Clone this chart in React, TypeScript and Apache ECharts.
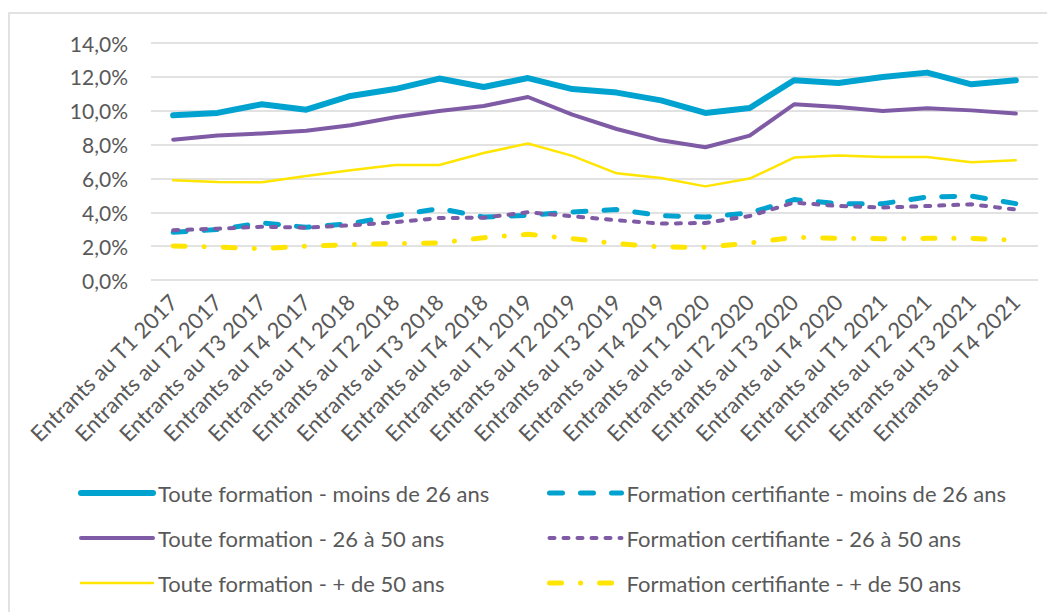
import React, { useEffect, useRef } from "react";
import * as echarts from "echarts";

const categories = [
  "Entrants au T1 2017", "Entrants au T2 2017", "Entrants au T3 2017", "Entrants au T4 2017",
  "Entrants au T1 2018", "Entrants au T2 2018", "Entrants au T3 2018", "Entrants au T4 2018",
  "Entrants au T1 2019", "Entrants au T2 2019", "Entrants au T3 2019", "Entrants au T4 2019",
  "Entrants au T1 2020", "Entrants au T2 2020", "Entrants au T3 2020", "Entrants au T4 2020",
  "Entrants au T1 2021", "Entrants au T2 2021", "Entrants au T3 2021", "Entrants au T4 2021",
];

const touteMoins26 = [9.73, 9.87, 10.38, 10.06, 10.87, 11.28, 11.9, 11.4, 11.93, 11.28, 11.07, 10.61, 9.87, 10.16, 11.8, 11.64, 11.99, 12.25, 11.56, 11.8];
const toute26a50 = [8.29, 8.53, 8.66, 8.82, 9.14, 9.61, 9.98, 10.28, 10.81, 9.77, 8.92, 8.25, 7.84, 8.53, 10.38, 10.22, 9.98, 10.14, 10.02, 9.83];
const touteplus50 = [5.89, 5.79, 5.77, 6.14, 6.48, 6.79, 6.79, 7.5, 8.06, 7.33, 6.3, 6.03, 5.53, 5.99, 7.23, 7.35, 7.27, 7.27, 6.95, 7.07];
const certMoins26 = [2.82, 2.98, 3.37, 3.11, 3.33, 3.8, 4.22, 3.72, 3.82, 4.02, 4.16, 3.8, 3.72, 3.96, 4.75, 4.51, 4.51, 4.9, 4.96, 4.51];
const cert26a50 = [2.94, 3.03, 3.15, 3.09, 3.23, 3.41, 3.66, 3.68, 4.0, 3.76, 3.53, 3.33, 3.37, 3.78, 4.57, 4.37, 4.28, 4.37, 4.47, 4.16];
const certPlus50 = [2.01, 1.95, 1.85, 2.0, 2.09, 2.15, 2.19, 2.5, 2.7, 2.44, 2.15, 1.95, 1.93, 2.19, 2.52, 2.46, 2.44, 2.46, 2.46, 2.35];

const seriesNames = [
  "Toute formation - moins de 26 ans",
  "Toute formation - 26 à 50 ans",
  "Toute formation - + de 50 ans",
  "Formation certifiante - moins de 26 ans",
  "Formation certifiante - 26 à 50 ans",
  "Formation certifiante - + de 50 ans",
];

const BLUE = "#00A3CF";
const PURPLE = "#7F5BA6";
const YELLOW = "#FFE500";
const FONT = "Lato";
const TEXT = "#595959";

export default function App() {
  const ref = useRef<HTMLDivElement>(null);
  useEffect(() => {
    if (!ref.current) return;
    const chart = echarts.init(ref.current, null, { renderer: "svg" });
    const mk = (name: string, data: number[], color: string, width: number, type: any) => ({
      name,
      type: "line",
      data,
      symbol: "none",
      lineStyle: { color, width, type, cap: "round", join: "round" },
      itemStyle: { color },
    });
    const legendBase = {
      orient: "vertical",
      padding: 0,
      itemWidth: 72,
      itemHeight: 14,
      itemGap: 21,
      itemStyle: { opacity: 0 },
      lineStyle: { width: "inherit", type: "inherit", cap: "inherit" },
      textStyle: { fontFamily: FONT, fontSize: 22, color: TEXT, lineHeight: 24 },
      top: 473,
    };
    chart.setOption({
      animation: false,
      graphic: [
        {
          type: "rect",
          shape: { x: 1, y: 5, width: 1100, height: 700 },
          style: { fill: "none", stroke: "#d9d9d9", lineWidth: 1.5 },
          silent: true,
        },
      ],
      grid: { left: 143, top: 35, width: 887, height: 237, containLabel: false },
      legend: [
        { ...legendBase, left: 70, data: seriesNames.slice(0, 3) },
        { ...legendBase, left: 539, data: seriesNames.slice(3) },
      ],
      xAxis: {
        type: "category",
        data: categories,
        boundaryGap: true,
        axisLine: { show: false },
        axisTick: { show: false },
        axisLabel: {
          interval: 0,
          rotate: 45,
          margin: 18,
          fontFamily: FONT,
          fontSize: 22,
          color: TEXT,
        },
      },
      yAxis: {
        type: "value",
        min: 0,
        max: 14,
        interval: 2,
        axisLine: { show: false },
        axisTick: { show: false },
        axisLabel: {
          margin: 23,
          fontFamily: FONT,
          fontSize: 21,
          color: TEXT,
          formatter: (v: number) => v.toFixed(1).replace(".", ",") + "%",
        },
        splitLine: { lineStyle: { color: "#d9d9d9", width: 1.5 } },
      },
      series: [
        mk(seriesNames[0], touteMoins26, BLUE, 6, "solid"),
        mk(seriesNames[1], toute26a50, PURPLE, 4, "solid"),
        mk(seriesNames[2], touteplus50, YELLOW, 2.5, "solid"),
        mk(seriesNames[3], certMoins26, BLUE, 5, [13, 18]),
        mk(seriesNames[4], cert26a50, PURPLE, 4, [5, 9]),
        mk(seriesNames[5], certPlus50, YELLOW, 5, [12, 19, 0.1, 19]),
      ],
    });
    return () => chart.dispose();
  }, []);
  return <div ref={ref} style={{ width: 1047, height: 604 }} />;
}
